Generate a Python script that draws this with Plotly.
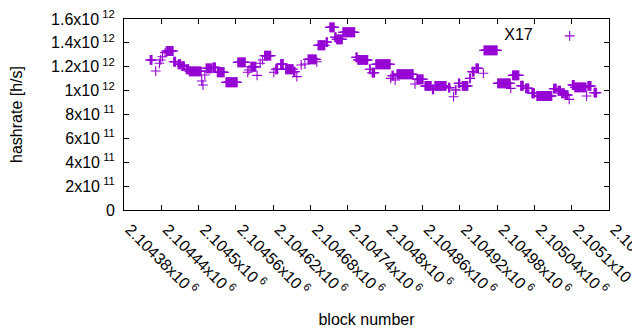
import plotly.graph_objects as go

# Runs of constant hashrate (block start, block end, hashrate in h/s)
run_start = [2104422, 2104431, 2104437, 2104439, 2104442, 2104446, 2104448, 2104460, 2104467, 2104473,
             2104480, 2104485, 2104505, 2104507, 2104510, 2104512, 2104523, 2104530, 2104544, 2104563,
             2104579, 2104581, 2104584, 2104594, 2104599, 2104603, 2104606, 2104621, 2104624, 2104632,
             2104640, 2104653, 2104658, 2104665, 2104671, 2104676, 2104690, 2104692, 2104705, 2104711,
             2104719, 2104722, 2104732, 2104753, 2104756, 2104775, 2104779, 2104785, 2104809, 2104811,
             2104816, 2104819, 2104848, 2104851, 2104864, 2104876, 2104880, 2104902, 2104910, 2104913,
             2104918, 2104924, 2104936, 2104940, 2104946, 2104958, 2104959, 2104981, 2105002, 2105005,
             2105018, 2105026, 2105036, 2105044, 2105071, 2105078, 2105084, 2105090, 2105096, 2105101,
             2105105, 2105124, 2105126, 2105136]
run_end = [2104425, 2104431, 2104437, 2104439, 2104442, 2104446, 2104459, 2104463, 2104471, 2104477,
           2104484, 2104504, 2104505, 2104507, 2104510, 2104521, 2104527, 2104541, 2104562, 2104575,
           2104579, 2104581, 2104592, 2104594, 2104599, 2104603, 2104616, 2104621, 2104627, 2104636,
           2104652, 2104655, 2104658, 2104665, 2104671, 2104689, 2104690, 2104703, 2104707, 2104718,
           2104721, 2104731, 2104751, 2104755, 2104772, 2104776, 2104783, 2104808, 2104809, 2104813,
           2104816, 2104845, 2104848, 2104861, 2104874, 2104878, 2104898, 2104904, 2104910, 2104914,
           2104920, 2104933, 2104937, 2104943, 2104950, 2104958, 2104980, 2105001, 2105002, 2105015,
           2105022, 2105031, 2105040, 2105068, 2105075, 2105082, 2105088, 2105094, 2105096, 2105104,
           2105123, 2105124, 2105131, 2105140]
run_value = [1.257e12, 1.164e12, 1.229e12, 1.257e12, 1.284e12, 1.318e12, 1.332e12, 1.242e12, 1.221e12, 1.206e12,
             1.179e12, 1.162e12, 1.081e12, 1.047e12, 1.131e12, 1.187e12, 1.195e12, 1.154e12, 1.070e12, 1.237e12,
             1.154e12, 1.173e12, 1.200e12, 1.128e12, 1.229e12, 1.257e12, 1.293e12, 1.154e12, 1.179e12, 1.223e12,
             1.179e12, 1.159e12, 1.117e12, 1.215e12, 1.223e12, 1.262e12, 1.242e12, 1.380e12, 1.407e12, 1.530e12,
             1.447e12, 1.430e12, 1.489e12, 1.279e12, 1.257e12, 1.179e12, 1.150e12, 1.221e12, 1.103e12, 1.125e12,
             1.089e12, 1.137e12, 1.056e12, 1.095e12, 1.039e12, 1.011e12, 1.039e12, 1.025e12, 0.949e12, 1.005e12,
             1.061e12, 1.039e12, 1.103e12, 1.159e12, 1.187e12, 1.145e12, 1.338e12, 1.061e12, 1.019e12, 1.128e12,
             1.041e12, 1.019e12, 0.978e12, 0.955e12, 1.016e12, 0.999e12, 0.978e12, 0.963e12, 0.927e12, 1.047e12,
             1.028e12, 0.955e12, 1.039e12, 0.983e12]

x_ticks = [2104380 + 60 * i for i in range(14)]
x_ticktext = ["2.10438x10", "2.10444x10", "2.1045x10", "2.10456x10", "2.10462x10", "2.10468x10",
              "2.10474x10", "2.1048x10", "2.10486x10", "2.10492x10", "2.10498x10", "2.10504x10",
              "2.1051x10", "2.10516x10"]
y_ticks = [0, 2e11, 4e11, 6e11, 8e11, 1e12, 1.2e12, 1.4e12, 1.6e12]
y_ticktext = ["0", "2x10", "4x10", "6x10", "8x10", "1x10", "1.2x10", "1.4x10", "1.6x10"]
y_tickexp = ["", "11", "11", "11", "11", "12", "12", "12", "12"]

# per-block points from the runs (each block in a run has the run's value)
xs, ys = [], []
for s, e, v in zip(run_start, run_end, run_value):
    for b in range(s, e + 1):
        xs.append(b)
        ys.append(v)

color = "#9400d3"
fig = go.Figure()
fig.add_trace(go.Scatter(
    x=xs, y=ys, mode="markers", name=" ",
    marker=dict(symbol="cross-thin", size=7, color=color, line=dict(color=color, width=1.1)),
))

gap = "\u2009"
font = "Liberation Sans, Arial, sans-serif"
fig.update_layout(
    width=632, height=322,
    margin=dict(l=116, r=31, t=11, b=120, autoexpand=False),
    paper_bgcolor="white", plot_bgcolor="white",
    font=dict(family=font, size=16, color="black"),
    showlegend=True,
    legend=dict(title=dict(text="X17\u00a0\u00a0", side="left", font=dict(size=16)),
                x=0.98, y=1.0, xanchor="right", yanchor="top",
                bgcolor="rgba(0,0,0,0)", font=dict(size=16)),
    xaxis=dict(
        range=[2104380, 2105160], tickmode="array", tickvals=x_ticks,
        ticktext=[t + gap + "<sup>6</sup>" for t in x_ticktext], tickangle=45,
        ticks="inside", ticklen=5, tickcolor="black", showline=True, linecolor="black",
        linewidth=1, mirror="allticks", showgrid=False, zeroline=False, automargin=False,
        ticklabeloverflow="allow", ticklabelshift=6, ticklabelstandoff=3,
        tickfont=dict(size=16),
        title=dict(text="block number", font=dict(size=16), standoff=16),
    ),
    yaxis=dict(
        range=[0, 1.6e12], tickmode="array", tickvals=y_ticks,
        ticktext=[t + (gap + "<sup>" + e + "</sup>" if e else "") for t, e in zip(y_ticktext, y_tickexp)],
        ticks="inside", ticklen=5, tickcolor="black", showline=True, linecolor="black",
        linewidth=1, mirror="allticks", showgrid=False, zeroline=False, automargin=False,
        ticklabeloverflow="allow", ticklabelstandoff=5, tickfont=dict(size=16),
        title=dict(text="hashrate [h/s]", font=dict(size=16), standoff=24),
    ),
)
fig.write_html("out.html")
